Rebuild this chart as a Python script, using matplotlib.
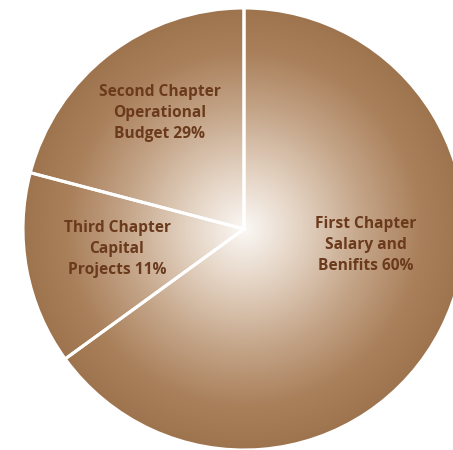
import numpy as np
import matplotlib
matplotlib.use("Agg")
import matplotlib.pyplot as plt
from matplotlib.colors import LinearSegmentedColormap
from matplotlib.patches import Circle

# Data (slice sweep; printed labels as shown)
categories = ["First Chapter\nSalary and\nBenifits 60%",
              "Third Chapter\nCapital\nProjects 11%",
              "Second Chapter\nOperational\nBudget 29%"]
values = [65.0, 14.1, 20.9]

W, H = 453, 450
fig = plt.figure(figsize=(W / 100, H / 100), dpi=100)
ax = fig.add_axes([0, 0, 1, 1])

cx, cy, R = 244, 450 - 229, 221

wedges, _ = ax.pie(values, center=(cx, cy), radius=R, startangle=90,
                   counterclock=False,
                   wedgeprops=dict(facecolor="none", edgecolor="white",
                                   linewidth=2.2, zorder=3))

# radial gradient fill
cmap = LinearSegmentedColormap.from_list(
    "brown", [(0.0, "#fbf8f5"), (0.25, "#e4d3c3"), (0.55, "#c3a386"),
              (0.8, "#aa805b"), (1.0, "#9e744e")])
yy, xx = np.mgrid[0:H, 0:W]
r = np.hypot(xx + 0.5 - cx, (H - yy - 0.5) - cy) / R
img = ax.imshow(np.clip(r, 0, 1), cmap=cmap, vmin=0, vmax=1,
                extent=[0, W, 0, H], origin="upper", zorder=1,
                interpolation="bilinear")
clip = Circle((cx, cy), R, transform=ax.transData)
img.set_clip_path(clip)

label_pos = [(366, 450 - 245), (117, 450 - 249), (160, 450 - 113)]
for lab, (x, y) in zip(categories, label_pos):
    ax.text(x, y, lab, ha="center", va="center", fontsize=11.2,
            fontweight="bold", family="Open Sans", color="#6b3a1c",
            linespacing=1.42, zorder=4)

ax.set_xlim(0, W)
ax.set_ylim(0, H)
ax.set_aspect("auto")
ax.axis("off")
fig.savefig("out.png", dpi=100)
